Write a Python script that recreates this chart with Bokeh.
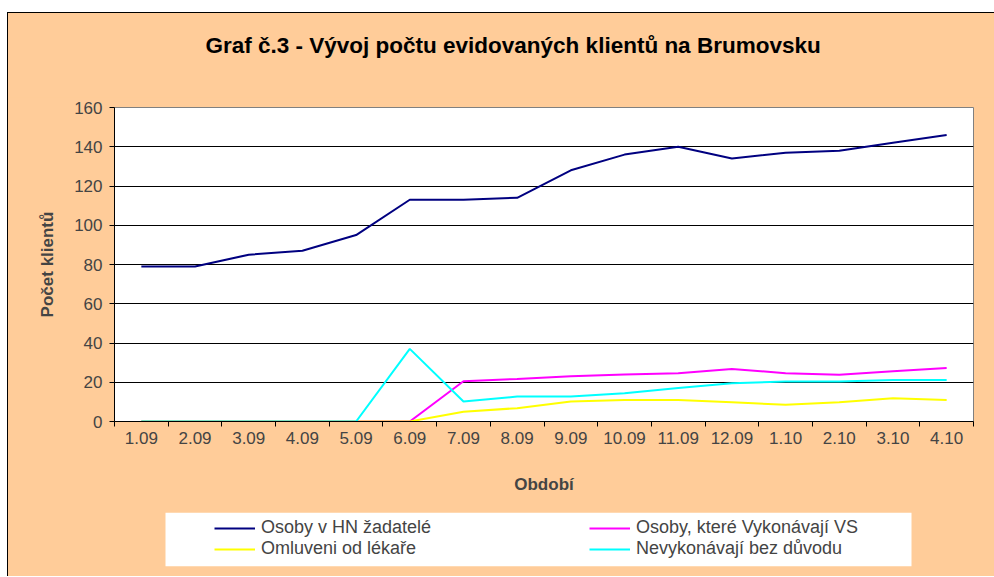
from bokeh.plotting import figure
from bokeh.models import FixedTicker, Legend, LegendItem, Spacer, Range1d, BoxAnnotation, Label
from bokeh.layouts import column, row
from bokeh.embed import file_html
from bokeh.resources import INLINE

# ---- data ----
periods = ["1.09", "2.09", "3.09", "4.09", "5.09", "6.09", "7.09", "8.09",
           "9.09", "10.09", "11.09", "12.09", "1.10", "2.10", "3.10", "4.10"]
hn_zadatele = [79, 79, 85, 87, 95, 113, 113, 114, 128, 136, 140, 134, 137, 138, 142, 146]
vykonavaji_vs = [0, 0, 0, 0, 0, 0, 20.5, 21.7, 23, 24, 24.6, 26.8, 24.6, 23.8, 25.6, 27.3]
omluveni = [0, 0, 0, 0, 0, 0, 5, 6.8, 10.2, 11, 11, 9.8, 8.5, 9.8, 11.9, 11]
bez_duvodu = [0, 0, 0, 0, 0, 37, 10.2, 12.7, 12.7, 14.4, 17.1, 19.5, 20.4, 20.4, 21.2, 21.2]
y_ticks = [0, 20, 40, 60, 80, 100, 120, 140, 160]

title_text = "Graf č.3 - Vývoj počtu evidovaných klientů na Brumovsku"
series_names = ["Osoby v HN žadatelé", "Osoby, které Vykonávají VS",
                "Omluveni od lékaře", "Nevykonávají bez důvodu"]
series_values = [hn_zadatele, vykonavaji_vs, omluveni, bez_duvodu]
series_colors = ["#000080", "#FF00FF", "#FFFF00", "#00FFFF"]

FONT = "Liberation Sans"
BG = "#FFCC99"
W = 986
LEFT, RIGHT = 106, 21
FRAME_W = W - LEFT - RIGHT

xpos = [i + 0.5 for i in range(len(periods))]


def blank(height, top=0, bottom=0):
    f = figure(width=W, height=height, output_backend="svg", toolbar_location=None,
               x_range=Range1d(0, FRAME_W), y_range=Range1d(0, height - top - bottom),
               x_axis_location=None, y_axis_location=None,
               min_border_left=LEFT, min_border_right=RIGHT,
               min_border_top=top, min_border_bottom=bottom)
    f.background_fill_alpha = 0
    f.border_fill_alpha = 0
    f.outline_line_color = None
    f.xgrid.grid_line_color = None
    f.ygrid.grid_line_color = None
    return f


# ---- title panel ----
t = blank(84)
t.add_layout(Label(x=91, y=52, text=title_text, text_font=FONT, text_font_size="22.5px",
                   text_font_style="bold", text_color="black",
                   text_align="left", text_baseline="middle"))

# ---- main chart ----
p = figure(width=W, height=407, output_backend="svg", toolbar_location=None,
           x_range=Range1d(0, len(periods)), y_range=Range1d(0, 160),
           min_border_left=LEFT, min_border_right=RIGHT, min_border_top=10,
           min_border_bottom=83)

p.background_fill_color = "white"
p.border_fill_color = BG
p.outline_line_color = "#808080"
p.outline_line_width = 1

p.xgrid.grid_line_color = None
p.ygrid.grid_line_color = "black"
p.ygrid.grid_line_width = 1
p.ygrid.ticker = FixedTicker(ticks=y_ticks)

p.yaxis.ticker = FixedTicker(ticks=y_ticks)
p.yaxis.axis_label = "Počet klientů"
p.yaxis.axis_label_text_font = FONT
p.yaxis.axis_label_text_font_style = "bold"
p.yaxis.axis_label_text_font_size = "17px"
p.yaxis.axis_label_standoff = 14
p.yaxis.major_label_text_font = FONT
p.yaxis.major_label_text_font_size = "17px"
p.yaxis.major_label_standoff = 7
p.yaxis.major_tick_out = 5
p.yaxis.major_tick_in = 0
p.yaxis.minor_tick_line_color = None
p.yaxis.axis_line_color = "black"
p.yaxis.major_tick_line_color = "black"

p.xaxis.ticker = FixedTicker(ticks=xpos, minor_ticks=list(range(len(periods) + 1)))
p.xaxis.major_label_overrides = {x: lab for x, lab in zip(xpos, periods)}
p.xaxis.major_tick_line_color = None
p.xaxis.minor_tick_line_color = "black"
p.xaxis.minor_tick_out = 5
p.xaxis.minor_tick_in = 0
p.xaxis.axis_line_color = "black"
p.xaxis.major_label_text_font = FONT
p.xaxis.major_label_text_font_size = "17px"
p.xaxis.major_label_standoff = 4
p.xaxis.axis_label = "Období"
p.xaxis.axis_label_text_font = FONT
p.xaxis.axis_label_text_font_style = "bold"
p.xaxis.axis_label_text_font_size = "17px"
p.xaxis.axis_label_standoff = 28

for vals, col in zip(series_values, series_colors):
    p.line(xpos, vals, line_color=col, line_width=2)

# ---- legend panel ----
q = blank(72, top=8, bottom=10)
q.add_layout(BoxAnnotation(left=51, right=797, fill_color="white", fill_alpha=1.0,
                           line_color=None))

# legend entries: the series lines drawn far below q's visible window
q.extra_y_ranges = {"hidden": Range1d(1000, 1001)}
items = []
for name, vals, col in zip(series_names, series_values, series_colors):
    r = q.line([x * FRAME_W / len(periods) for x in xpos], vals, line_color=col,
               line_width=2, y_range_name="hidden")
    items.append(LegendItem(label=name, renderers=[r]))

legend = Legend(items=items, location=(100, 7), orientation="horizontal", ncols=2,
                padding=0, spacing=0, margin=0,
                glyph_width=41, glyph_height=20, label_height=20, label_width=328,
                label_standoff=6,
                label_text_font=FONT, label_text_font_size="18px",
                background_fill_alpha=0, border_line_color=None)
q.add_layout(legend, "center")

black = {"background-color": "black"}
root = column(
    Spacer(width=994, height=12),
    row(Spacer(width=7, height=1), Spacer(width=987, height=1, styles=black)),
    row(Spacer(width=7, height=563), Spacer(width=1, height=563, styles=black),
        column(t, p, q, styles={"background-color": BG})),
)
open("out.html", "w").write(file_html(root, INLINE))
